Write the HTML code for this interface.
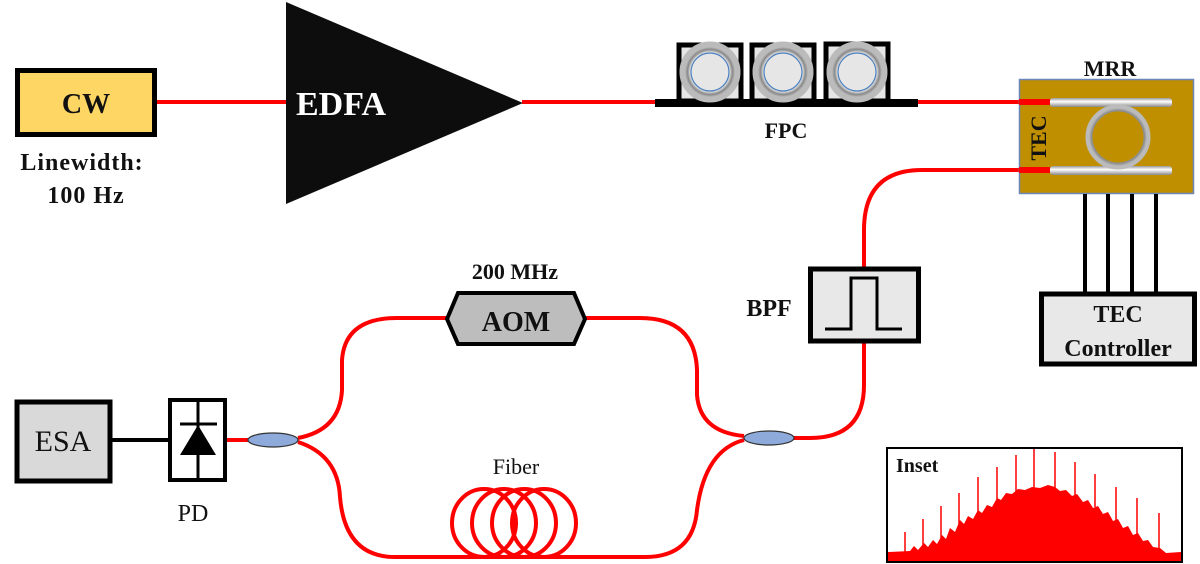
<!DOCTYPE html>
<html><head><meta charset="utf-8"><style>
html,body{margin:0;padding:0;background:#fff;}
svg{display:block;}
text{font-family:"Liberation Serif",serif;font-weight:bold;fill:#111;}
</style></head><body>
<svg width="1200" height="564" viewBox="0 0 1200 564" xmlns="http://www.w3.org/2000/svg">
<defs>
<radialGradient id="ring" cx="50%" cy="50%" r="50%">
<stop offset="0.6" stop-color="#666"/><stop offset="0.75" stop-color="#fff"/><stop offset="0.9" stop-color="#888"/><stop offset="1" stop-color="#bbb"/>
</radialGradient>
<linearGradient id="bar" x1="0" y1="0" x2="0" y2="1">
<stop offset="0" stop-color="#999"/><stop offset="0.4" stop-color="#fff"/><stop offset="1" stop-color="#888"/>
</linearGradient>
</defs>
<g fill="none" stroke="#f00" stroke-width="4">
<line x1="157" y1="102" x2="287" y2="102"/>
<line x1="522" y1="102" x2="656" y2="102"/>
<line x1="916" y1="102" x2="1022" y2="102"/>
<path d="M1048 170 H922 Q864 170 864 230 V267"/>
<path d="M864 343 V385 Q864 438 810 438 H793"/>
<line x1="227" y1="440" x2="248" y2="440"/>
<path d="M298 438 Q340 430 342 390 V360 Q345 318 397 318 H447"/>
<path d="M586 318 H640 Q695 318 697 370 V395 Q700 432 744 436"/>
<path d="M298 442 Q338 455 340 497 Q345 557 395 557 H645 Q693 557 697 510 Q705 450 744 440"/>
<ellipse cx="484" cy="523" rx="32" ry="34"/><ellipse cx="504" cy="523" rx="32" ry="34"/><ellipse cx="524" cy="523" rx="32" ry="34"/><ellipse cx="544" cy="523" rx="32" ry="34"/>
</g>
<!-- CW -->
<rect x="17.5" y="70.5" width="137" height="64" fill="#fdd663" stroke="#000" stroke-width="5"/>
<text x="86" y="113" font-size="28" text-anchor="middle">CW</text>
<text x="82" y="170" font-size="24" text-anchor="middle" letter-spacing="1">Linewidth:</text>
<text x="86" y="203" font-size="24" text-anchor="middle" letter-spacing="1">100 Hz</text>
<!-- EDFA -->
<polygon points="286,2 286,204 523,103" fill="#0d0d0d"/>
<text x="296" y="115" font-size="34" style="fill:#fff">EDFA</text>
<!-- FPC -->
<rect x="655" y="99" width="263" height="8" fill="#000"/>
<g>
<rect x="679" y="45" width="62" height="56" fill="#e6e6e6" stroke="#000" stroke-width="5"/>
<circle cx="710" cy="72" r="25" fill="none" stroke="url(#ring)" stroke-width="11"/>
<circle cx="710" cy="72" r="19" fill="none" stroke="#4a7fbf" stroke-width="1.2"/>
<rect x="752" y="45" width="62" height="56" fill="#e6e6e6" stroke="#000" stroke-width="5"/>
<circle cx="783" cy="72" r="25" fill="none" stroke="url(#ring)" stroke-width="11"/>
<circle cx="783" cy="72" r="19" fill="none" stroke="#4a7fbf" stroke-width="1.2"/>
<rect x="826" y="44" width="62" height="57" fill="#e6e6e6" stroke="#000" stroke-width="5"/>
<circle cx="857" cy="72" r="25" fill="none" stroke="url(#ring)" stroke-width="11"/>
<circle cx="857" cy="72" r="19" fill="none" stroke="#4a7fbf" stroke-width="1.2"/>
</g>
<text x="786" y="138" font-size="22" text-anchor="middle">FPC</text>
<!-- MRR -->
<text x="1110" y="76" font-size="22" text-anchor="middle">MRR</text>
<rect x="1019.5" y="79.5" width="174" height="114" fill="#bf8f00" stroke="#6b86b8" stroke-width="1.5"/>
<line x1="1019" y1="102" x2="1050" y2="102" stroke="#f00" stroke-width="6"/>
<line x1="1019" y1="170" x2="1050" y2="170" stroke="#f00" stroke-width="6"/>
<rect x="1050" y="98" width="122" height="9" rx="3" fill="url(#bar)"/>
<rect x="1050" y="166" width="122" height="9" rx="3" fill="url(#bar)"/>
<circle cx="1118" cy="137" r="29" fill="none" stroke="url(#ring)" stroke-width="7"/>
<text x="0" y="0" font-size="22" text-anchor="middle" transform="translate(1046,138) rotate(-90)">TEC</text>
<g stroke="#000" stroke-width="4">
<line x1="1085" y1="194" x2="1085" y2="292"/><line x1="1108" y1="194" x2="1108" y2="292"/>
<line x1="1132" y1="194" x2="1132" y2="292"/><line x1="1156" y1="194" x2="1156" y2="292"/>
</g>
<rect x="1041.5" y="294" width="153" height="70" fill="#e8e8e8" stroke="#000" stroke-width="5"/>
<text x="1118" y="322" font-size="24" text-anchor="middle">TEC</text>
<text x="1118" y="356" font-size="24" text-anchor="middle">Controller</text>
<!-- BPF -->
<rect x="810.5" y="269" width="108" height="72" fill="#e8e8e8" stroke="#000" stroke-width="5"/>
<polyline points="825,329 851,329 851,278 877,278 877,329 902,329" fill="none" stroke="#000" stroke-width="3"/>
<text x="769" y="316" font-size="24" text-anchor="middle">BPF</text>
<!-- AOM -->
<text x="515" y="279" font-size="22" text-anchor="middle">200 MHz</text>
<polygon points="447,319 458,293 574,293 585,319 574,344 458,344" fill="#bdbdbd" stroke="#000" stroke-width="4"/>
<text x="516" y="331" font-size="28" text-anchor="middle">AOM</text>
<!-- ESA / PD -->
<rect x="17" y="402" width="93" height="79" fill="#d9d9d9" stroke="#000" stroke-width="5"/>
<text x="63" y="451" font-size="30" text-anchor="middle" style="font-weight:normal">ESA</text>
<line x1="112" y1="440" x2="168" y2="440" stroke="#000" stroke-width="4"/>
<rect x="170" y="400" width="55" height="80" fill="#fff" stroke="#000" stroke-width="4"/>
<line x1="198" y1="400" x2="198" y2="480" stroke="#000" stroke-width="3"/>
<line x1="180" y1="424" x2="217" y2="424" stroke="#000" stroke-width="3"/>
<polygon points="198,425 180,455 216,455" fill="#000"/>
<text x="193" y="521" font-size="24" text-anchor="middle" style="font-weight:normal">PD</text>
<!-- couplers -->
<ellipse cx="273" cy="440" rx="25" ry="7" fill="#8eaadb" stroke="#333" stroke-width="1.2"/>
<ellipse cx="769" cy="438" rx="25" ry="7" fill="#8eaadb" stroke="#333" stroke-width="1.2"/>
<text x="516" y="474" font-size="22" text-anchor="middle" style="font-weight:normal">Fiber</text>
<!-- Inset -->
<rect x="887" y="448" width="295" height="114" fill="#fff" stroke="#000" stroke-width="2"/>
<path d="M888 561 V552 L910 551 L914 546 L918 550 L924 543 L928 547 L933 540 L937 544 L942 535 L946 539 L950 528 L955 532 L960 520 L964 524 L968 516 L973 519 L978 510 L982 513 L987 505 L992 507 L997 498 L1001 500 L1006 493 L1012 494 L1018 489 L1025 490 L1032 487 L1040 488 L1048 485 L1055 487 L1060 491 L1066 490 L1072 496 L1077 494 L1083 502 L1088 500 L1093 508 L1098 506 L1103 514 L1108 512 L1113 521 L1118 519 L1123 528 L1128 526 L1133 535 L1138 533 L1143 541 L1148 540 L1153 547 L1160 548 L1166 553 L1181 552 V561 Z" fill="#f00"/>
<g stroke="#f00" stroke-width="1.5">
<line x1="905" y1="553" x2="905" y2="532"/><line x1="923" y1="550" x2="923" y2="519"/>
<line x1="941" y1="545" x2="941" y2="506"/><line x1="959" y1="535" x2="959" y2="493"/>
<line x1="978" y1="520" x2="978" y2="477"/><line x1="997" y1="505" x2="997" y2="467"/>
<line x1="1016" y1="495" x2="1016" y2="455"/><line x1="1034" y1="490" x2="1034" y2="449"/>
<line x1="1055" y1="490" x2="1055" y2="452"/><line x1="1075" y1="497" x2="1075" y2="462"/>
<line x1="1095" y1="507" x2="1095" y2="474"/><line x1="1116" y1="522" x2="1116" y2="487"/>
<line x1="1137" y1="538" x2="1137" y2="498"/><line x1="1159" y1="550" x2="1159" y2="513"/>
</g>
<text x="896" y="472" font-size="20">Inset</text>
</svg>
</body></html>
